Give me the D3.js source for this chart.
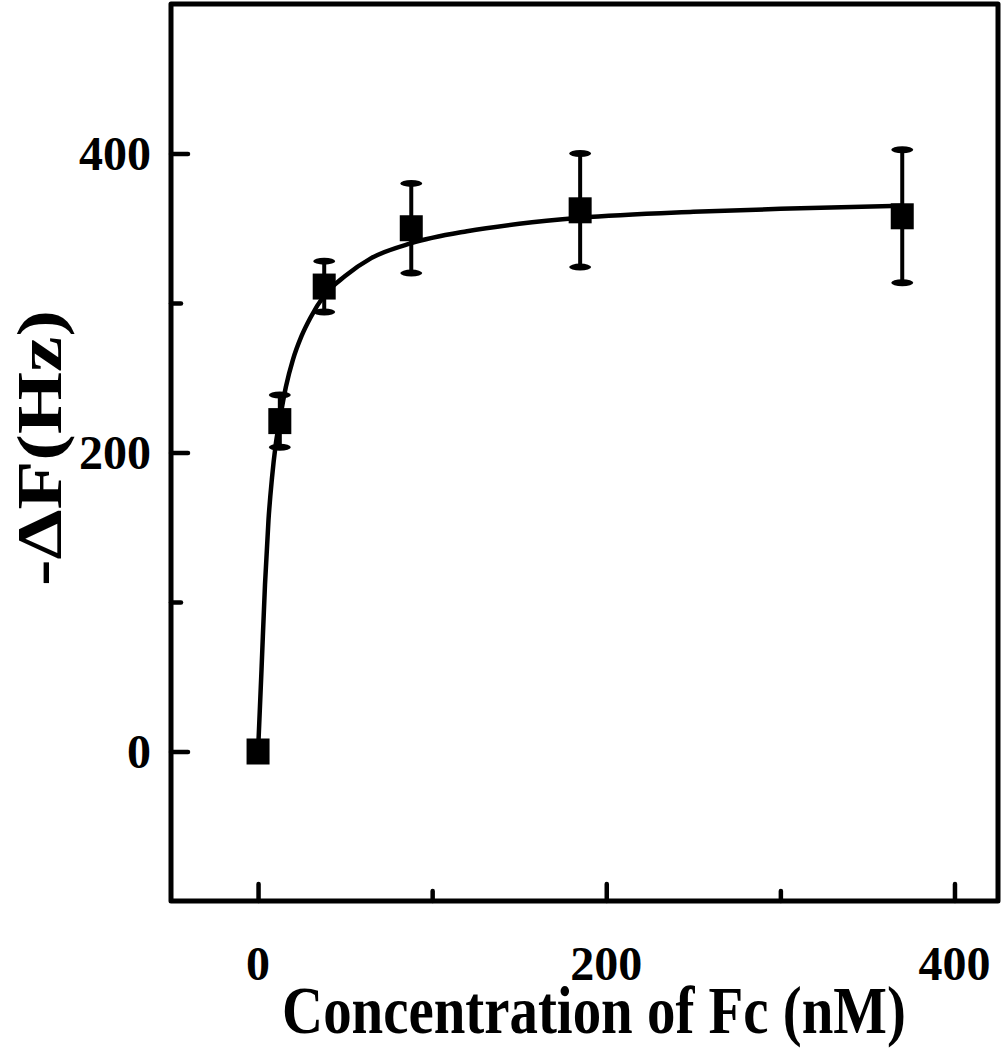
<!DOCTYPE html>
<html>
<head>
<meta charset="utf-8">
<script src="https://cdn.jsdelivr.net/npm/d3@7/dist/d3.min.js"></script>
<style>
  html, body { margin: 0; padding: 0; background: #fff; }
  svg { display: block; }
  text { font-family: "Liberation Serif", "Times New Roman", serif; font-weight: bold; fill: #000; }
</style>
</head>
<body>
<svg id="chart" width="1003" height="1050"></svg>
<script>
// ---- data ----
const concentrations = [0, 12.5, 38, 88, 185, 370];          // nM
const deltaF = [0, 221, 311, 350, 362, 358];                   // -ΔF (Hz)
const errors = [0, 17.5, 17, 30, 38, 44.5];                    // ± error
// fitted curve
const fitX = [0, 2, 4, 6, 8, 10, 12.5, 16, 20, 25, 30, 38, 50, 65, 88, 120, 150, 185, 250, 300, 370];
const fitY = [0, 55, 112, 155, 183, 204, 222, 244, 262, 278, 290, 305, 318, 330, 340, 348, 353, 357, 361, 363, 365];
const xMajorTicks = [0, 200, 400];
const xMinorTicks = [100, 300];
const yMajorTicks = [0, 200, 400];
const yMinorTicks = [100, 300];
const xLabel = "Concentration of Fc (nM)";
const yLabel = "-ΔF(Hz)";

(function () {
const svg = d3.select("#chart");
const mL = 171, mR = 998, mT = 4, mB = 901;
const x = d3.scaleLinear().domain([-50, 425]).range([mL, mR]);
const y = d3.scaleLinear().domain([-100, 500]).range([mB, mT]);

// frame
svg.append("rect")
  .attr("x", mL).attr("y", mT)
  .attr("width", mR - mL).attr("height", mB - mT)
  .attr("fill", "none").attr("stroke", "#000").attr("stroke-width", 5)
  .attr("stroke-linejoin", "round");

// axes (ticks inward)
const xAxisMajor = d3.axisTop(x).tickValues(xMajorTicks).tickSize(17).tickFormat("");
const xAxisMinor = d3.axisTop(x).tickValues(xMinorTicks).tickSize(10).tickFormat("");
const yAxisMajor = d3.axisRight(y).tickValues(yMajorTicks).tickSize(17).tickFormat("");
const yAxisMinor = d3.axisRight(y).tickValues(yMinorTicks).tickSize(10).tickFormat("");
[ [xAxisMajor, `translate(0,${mB})`], [xAxisMinor, `translate(0,${mB})`],
  [yAxisMajor, `translate(${mL},0)`], [yAxisMinor, `translate(${mL},0)`] ].forEach(([ax, tr]) => {
  const g = svg.append("g").attr("transform", tr).call(ax);
  g.select(".domain").remove();
  g.selectAll(".tick line").attr("stroke", "#000").attr("stroke-width", 4.5).attr("stroke-linecap", "round");
});

// tick labels
svg.append("g").selectAll("text").data(xMajorTicks).join("text")
  .attr("x", d => x(d)).attr("y", 980)
  .attr("text-anchor", "middle").attr("font-size", 48)
  .text(d => d);
svg.append("g").selectAll("text").data(yMajorTicks).join("text")
  .attr("x", 151).attr("y", d => y(d) + 16)
  .attr("text-anchor", "end").attr("font-size", 48)
  .text(d => d);

// axis titles (condensed/stretched like the reference via transform)
const xt = svg.append("text")
  .attr("text-anchor", "middle").attr("font-size", 68)
  .text(xLabel);
const xLen = xt.node().getComputedTextLength();
xt.attr("transform", `translate(594,1033) scale(${624 / xLen},1)`);

const yt = svg.append("text")
  .attr("text-anchor", "middle").attr("font-size", 64)
  .text(yLabel);
const yLen = yt.node().getComputedTextLength();
yt.attr("transform", `translate(61,448) rotate(-90) scale(${276 / yLen},1)`);

// fit curve
const fit = fitX.map((d, i) => [d, fitY[i]]);
svg.append("path")
  .datum(fit)
  .attr("fill", "none").attr("stroke", "#000").attr("stroke-width", 4.5)
  .attr("stroke-linecap", "round").attr("stroke-linejoin", "round")
  .attr("d", d3.line().x(d => x(d[0])).y(d => y(d[1])).curve(d3.curveMonotoneX));

// error bars
const pts = concentrations.map((c, i) => ({ c, v: deltaF[i], e: errors[i] }));
const eb = svg.append("g");
pts.filter(d => d.e > 0).forEach(d => {
  eb.append("line")
    .attr("x1", x(d.c)).attr("x2", x(d.c))
    .attr("y1", y(d.v + d.e)).attr("y2", y(d.v - d.e))
    .attr("stroke", "#000").attr("stroke-width", 4);
  [d.v + d.e, d.v - d.e].forEach(v => {
    eb.append("ellipse")
      .attr("cx", x(d.c)).attr("cy", y(v))
      .attr("rx", 11).attr("ry", 3.5).attr("fill", "#000");
  });
});

// markers
svg.append("g").selectAll("rect").data(pts).join("rect")
  .attr("x", d => x(d.c) - 11.5).attr("y", d => y(d.v) - 13)
  .attr("width", 23).attr("height", 26).attr("fill", "#000");
})();
</script>
</body>
</html>
